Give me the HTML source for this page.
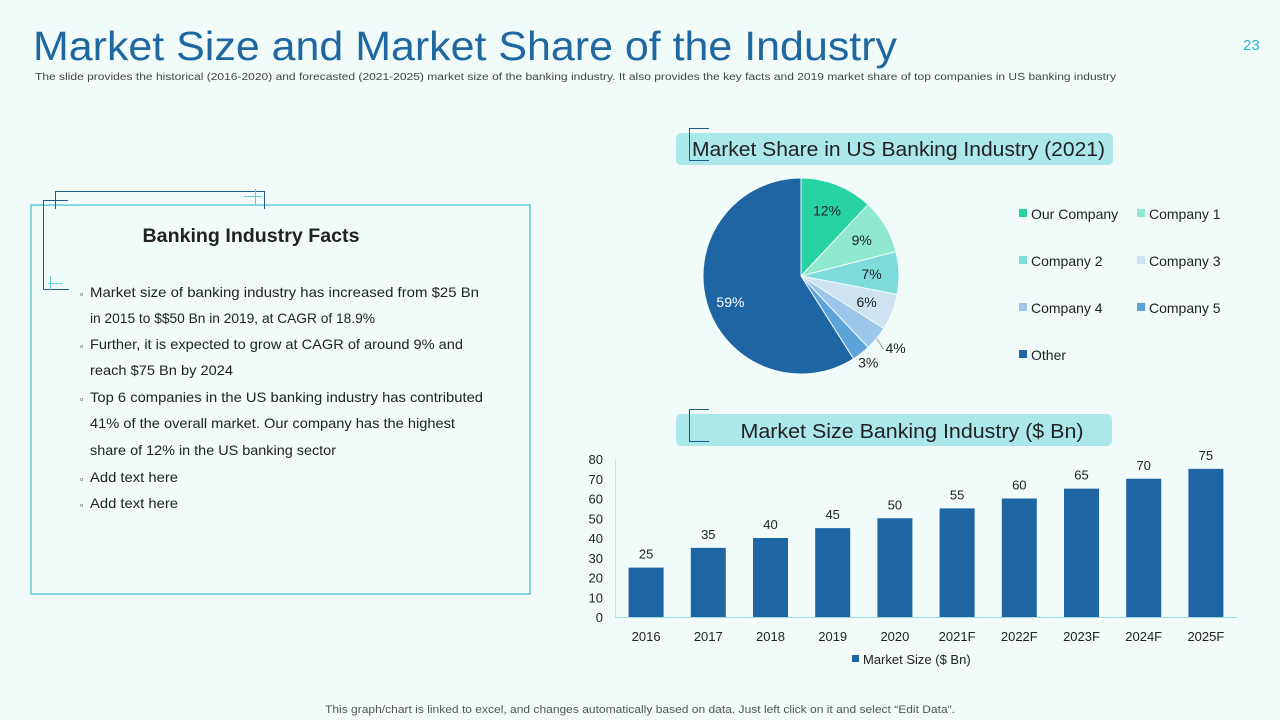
<!DOCTYPE html>
<html><head><meta charset="utf-8"><style>
html,body{margin:0;padding:0;background:#f1fbfa;}
svg{display:block;font-family:"Liberation Sans",sans-serif;}
</style></head><body>
<svg id="s" width="1280" height="720" viewBox="0 0 1280 720">
<rect width="1280" height="720" fill="#f1fbfa"/>
<text x="33" y="60" font-size="41" fill="#1e67a0" textLength="864" lengthAdjust="spacingAndGlyphs">Market Size and Market Share of the Industry</text>
<text x="1243" y="50" font-size="15" fill="#2bb3c8">23</text>
<text x="35" y="80" font-size="10" fill="#444" textLength="1081" lengthAdjust="spacingAndGlyphs">The slide provides the historical (2016-2020) and forecasted (2021-2025) market size of the banking industry. It also provides the key facts and 2019 market share of top companies in US banking industry</text>

<g>
<rect x="31" y="205" width="499" height="389" fill="none" stroke="#3dbdd0" stroke-width="1.2"/>
<path d="M43.5 289.5 V200.5 H55.5 V191.5 H264.5 V209" fill="none" stroke="#1e5a8a" stroke-width="1"/>
<path d="M43.5 289.5 H69" fill="none" stroke="#1e5a8a"/>
<path d="M43 200.5 H68 M55.5 191 V209" fill="none" stroke="#1e5a8a"/>
<path d="M244 196.5 H262 M255.5 189 V205 M48 283.5 H63 M50.5 276 V290" fill="none" stroke="#6cc" stroke-width="1"/>
<text x="251" y="242" font-size="19" font-weight="bold" fill="#222" text-anchor="middle" textLength="217" lengthAdjust="spacingAndGlyphs">Banking Industry Facts</text>
<g font-size="14" fill="#222">
<text x="80" y="297" font-size="9">▫</text><text x="90" y="297" textLength="389" lengthAdjust="spacingAndGlyphs">Market size of banking industry has increased from $25 Bn</text>
<text x="90" y="323" textLength="285" lengthAdjust="spacingAndGlyphs">in 2015 to $$50 Bn in 2019, at CAGR of 18.9%</text>
<text x="80" y="349" font-size="9">▫</text><text x="90" y="349" textLength="373" lengthAdjust="spacingAndGlyphs">Further, it is expected to grow at CAGR of around 9% and</text>
<text x="90" y="375" textLength="143" lengthAdjust="spacingAndGlyphs">reach $75 Bn by 2024</text>
<text x="80" y="402" font-size="9">▫</text><text x="90" y="402" textLength="393" lengthAdjust="spacingAndGlyphs">Top 6 companies in the US banking industry has contributed</text>
<text x="90" y="428" textLength="365" lengthAdjust="spacingAndGlyphs">41% of the overall market. Our company has the highest</text>
<text x="90" y="455" textLength="246" lengthAdjust="spacingAndGlyphs">share of 12% in the US banking sector</text>
<text x="80" y="482" font-size="9">▫</text><text x="90" y="482" textLength="88" lengthAdjust="spacingAndGlyphs">Add text here</text>
<text x="80" y="508" font-size="9">▫</text><text x="90" y="508" textLength="88" lengthAdjust="spacingAndGlyphs">Add text here</text>
</g></g>

<g>
<rect x="676" y="133" width="437" height="32" rx="5" fill="#ace7ea"/>
<path d="M709 128.5 H689.5 V160.5 H709" fill="none" stroke="#1e5a8a"/>
<text x="692" y="156" font-size="20" fill="#222" textLength="413" lengthAdjust="spacingAndGlyphs">Market Share in US Banking Industry (2021)</text>
</g>
<g id="pie"></g>
<g id="legend"></g>

<g>
<rect x="676" y="414" width="436" height="32" rx="5" fill="#ace7ea"/>
<path d="M709 409.5 H689.5 V441.5 H709" fill="none" stroke="#1e5a8a"/>
<text x="912" y="438" font-size="20" fill="#222" text-anchor="middle" textLength="343" lengthAdjust="spacingAndGlyphs">Market Size Banking Industry ($ Bn)</text>
</g>
<g id="bars"></g>

<text x="640" y="713" font-size="11" fill="#555" text-anchor="middle" textLength="630" lengthAdjust="spacingAndGlyphs">This graph/chart is linked to excel, and changes automatically based on data. Just left click on it and select “Edit Data”.</text>
</svg>
<script>
const pieLabels=["Our Company","Company 1","Company 2","Company 3","Company 4","Company 5","Other"];
const pieValues=[12,9,7,6,4,3,59];
const pieColors=["#27d3a2","#8ee9cf","#7fdcdc","#cde3f2","#9cc7ea","#5ba3d9","#1e65a3"];
const barCats=["2016","2017","2018","2019","2020","2021F","2022F","2023F","2024F","2025F"];
const barValues=[25,35,40,45,50,55,60,65,70,75];
const yTicks=[0,10,20,30,40,50,60,70,80];
const NS="http://www.w3.org/2000/svg";
function mk(t,a,p){const e=document.createElementNS(NS,t);for(const k in a)e.setAttribute(k,a[k]);p.appendChild(e);return e;}
// pie
const pie=document.getElementById('pie');
const cx=801,cy=276,R=98;
const tot=pieValues.reduce((a,b)=>a+b,0);
let acc=0;
pieValues.forEach((v,i)=>{
 const a0=acc/tot*2*Math.PI,a1=(acc+v)/tot*2*Math.PI;acc+=v;
 const p=(a)=>[cx+R*Math.sin(a),cy-R*Math.cos(a)];
 const [x0,y0]=p(a0),[x1,y1]=p(a1);
 const s=mk('path',{d:`M${cx} ${cy} L${x0} ${y0} A${R} ${R} 0 ${a1-a0>Math.PI?1:0} 1 ${x1} ${y1}Z`,fill:pieColors[i],stroke:'#f1fbfa','stroke-width':1},pie);
 
 
 const am=(a0+a1)/2;let r=v>=6?R*0.72:R*1.12;
 let lx=cx+r*Math.sin(am),ly=cy-r*Math.cos(am);
 if(v===4){lx+=10;ly+=2;mk('path',{d:`M${cx+R*Math.sin(am)} ${cy-R*Math.cos(am)} L${lx-12} ${ly+1}`,stroke:'#999',fill:'none'},pie);}
 if(v===59){lx=cx-R*0.72;ly=cy+26;}
 const t=mk('text',{x:lx,y:ly+5,'font-size':14,'text-anchor':'middle',fill:v===59?'#fff':'#222'},pie);
 t.textContent=v+'%';
 
 
});
// legend
const lg=document.getElementById('legend');
pieLabels.forEach((l,i)=>{
 const x=1019+(i%2)*118,y=214+Math.floor(i/2)*47;
 const r=mk('rect',{x:x,y:y-5,width:8,height:8,fill:pieColors[i]},lg);
 
 
 const t=mk('text',{x:x+12,y:y+5,'font-size':14,fill:'#222'},lg);
 t.textContent=l;
 
 
});
// bars
const g=document.getElementById('bars');
const y0=617,y80=459,ymax=80;
const ys=v=>y0-(v/ymax)*(y0-y80);
const xStart=615,xEnd=1237,step=(xEnd-xStart)/barCats.length,bw=35;
const xs=i=>xStart+step*(i+0.5);
mk('line',{x1:615.5,y1:459,x2:615.5,y2:y0,stroke:'#bfe6ea'},g);
mk('line',{x1:xStart,y1:y0+0.5,x2:xEnd,y2:y0+0.5,stroke:'#9fdde3'},g);
yTicks.forEach(t=>{
 const e=mk('text',{x:603,y:ys(t)+5,'font-size':13,'text-anchor':'end',fill:'#222'},g);
 e.textContent=t;
 
 
});
barValues.forEach((v,i)=>{
 const b=mk('rect',{x:xs(i)-bw/2,y:ys(v),width:bw,height:y0-ys(v),fill:'#1e65a3'},g);
 
 
 const t=mk('text',{x:xs(i),y:ys(v)-9,'font-size':13,'text-anchor':'middle',fill:'#222'},g);
 t.textContent=v;
 
 
 const c=mk('text',{x:xs(i),y:641,'font-size':13,'text-anchor':'middle',fill:'#222'},g);
 c.textContent=barCats[i];
 
 
});
const ls=mk('rect',{x:852,y:655,width:7,height:7,fill:'#1e65a3'},g);


const lt=mk('text',{x:863,y:664,'font-size':13,fill:'#222'},g);
lt.textContent='Market Size ($ Bn)';


</script>
</body></html>
